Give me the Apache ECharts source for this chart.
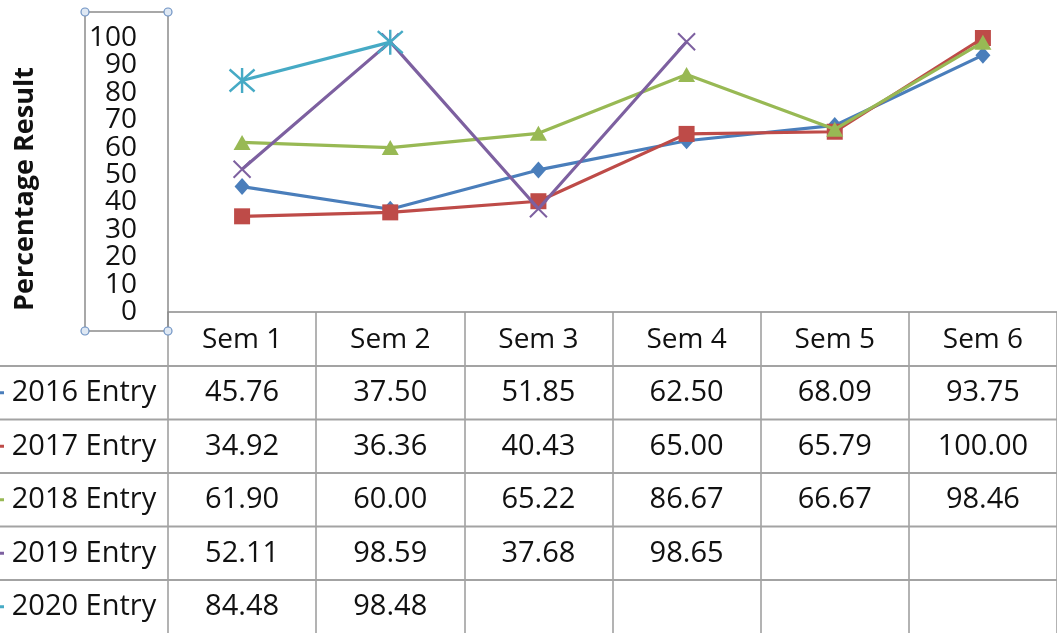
<!DOCTYPE html>
<html>
<head>
<meta charset="utf-8">
<script src="https://cdn.jsdelivr.net/npm/echarts@6/dist/echarts.min.js"></script>
<style>
  html, body { margin: 0; padding: 0; background: #fff; }
  #main { width: 1057px; height: 633px; }
</style>
</head>
<body>
<div id="main"></div>
<script>
const semesters = ['Sem 1', 'Sem 2', 'Sem 3', 'Sem 4', 'Sem 5', 'Sem 6'];
const entryNames = ['2016 Entry', '2017 Entry', '2018 Entry', '2019 Entry', '2020 Entry'];
const entry2016 = [45.76, 37.50, 51.85, 62.50, 68.09, 93.75];
const entry2017 = [34.92, 36.36, 40.43, 65.00, 65.79, 100.00];
const entry2018 = [61.90, 60.00, 65.22, 86.67, 66.67, 98.46];
const entry2019 = [52.11, 98.59, 37.68, 98.65, null, null];
const entry2020 = [84.48, 98.48, null, null, null, null];
const yTicks = [0, 10, 20, 30, 40, 50, 60, 70, 80, 90, 100];

const allEntries = [entry2016, entry2017, entry2018, entry2019, entry2020];
const colors = ['#4a7ebb', '#be4b48', '#98b954', '#7d60a0', '#46aac5'];

const FONT = 'Open Sans';
const xMark = 'path://M0,0L10,10M10,0L0,10';
const star = 'path://M5,0L5,10M0,0.6L10,9.4M0,9.4L10,0.6';
const symbols = ['diamond', 'rect', 'triangle', xMark, star];
const symbolSizes = [[15, 17], 16, [17, 15], 17, 25];

const chart = echarts.init(document.getElementById('main'));

const series = allEntries.map(function (vals, i) {
  const stroked = i >= 3;
  return {
    name: entryNames[i],
    type: 'line',
    data: vals,
    symbol: symbols[i],
    symbolSize: symbolSizes[i],
    showAllSymbol: true,
    connectNulls: false,
    lineStyle: { color: colors[i], width: 3.2 },
    itemStyle: stroked
      ? { color: colors[i], borderColor: colors[i], borderWidth: i === 4 ? 2.4 : 2 }
      : { color: colors[i], borderWidth: 0 },
    emphasis: { disabled: true },
    z: 3 + i
  };
});

chart.setOption({
  animation: false,
  grid: { left: 168, top: 38, width: 893, height: 274, containLabel: false },
  xAxis: {
    type: 'category',
    data: semesters,
    boundaryGap: true,
    axisLine: { lineStyle: { color: '#8a8a8a', width: 1.5 } },
    axisTick: { show: true, length: 322, lineStyle: { color: '#9a9a9a', width: 1.5 } },
    axisLabel: {
      margin: 28, verticalAlign: 'middle', fontFamily: FONT, fontSize: 28, color: '#111'
    },
    splitLine: { show: false }
  },
  yAxis: {
    type: 'value',
    min: yTicks[0],
    max: yTicks[yTicks.length - 1],
    interval: 10,
    name: 'Percentage Result',
    nameLocation: 'middle',
    nameGap: 129,
    nameTextStyle: {
      fontFamily: FONT, fontSize: 27, fontWeight: 'bold', color: '#111',
      padding: [0, 28, 0, 0]
    },
    axisLine: { show: false },
    axisTick: { show: false },
    splitLine: { show: false },
    // labels are packed tighter than echarts allows, drawn below
    axisLabel: { show: false }
  },
  series: series
});

// data table, columns aligned on the category axis
const rowTop = 366, rowH = 53.5;
const graphics = [];
const gridColor = '#a3a3a3';

// the selected axis-label box with its handles
graphics.push({
  type: 'rect', shape: { x: 85, y: 12, width: 83, height: 319 },
  style: { fill: 'none', stroke: '#8c8c8c', lineWidth: 1.5 }, z: 10
});
[[85, 12], [168, 12], [85, 331], [168, 331]].forEach(function (p) {
  graphics.push({
    type: 'circle', shape: { cx: p[0], cy: p[1], r: 4 },
    style: { fill: '#dfe8f3', stroke: '#6f93c4', lineWidth: 1.2 }, z: 11
  });
});

yTicks.forEach(function (t) {
  const y = chart.convertToPixel({ yAxisIndex: 0 }, t);
  graphics.push({
    type: 'text', x: 137, y: y,
    style: { text: String(t), fontFamily: FONT, fontSize: 28, fill: '#111', align: 'right', verticalAlign: 'middle' },
    z: 10
  });
});

for (let r = 0; r < entryNames.length; r++) {
  const y0 = rowTop + r * rowH;
  graphics.push({
    type: 'line', shape: { x1: 0, y1: y0, x2: 1057, y2: y0 },
    style: { stroke: gridColor, lineWidth: 2 }, z: 10
  });
  const cy = y0 + rowH / 2;
  // legend key, cut off at the left edge
  graphics.push({
    type: 'rect', shape: { x: 0, y: cy - 1.5, width: 4, height: 3 },
    style: { fill: colors[r] }, z: 10
  });
  graphics.push({
    type: 'text', x: 84, y: cy,
    style: { text: entryNames[r], fontFamily: FONT, fontSize: 29, fill: '#111', align: 'center', verticalAlign: 'middle' },
    z: 10
  });
  allEntries[r].forEach(function (v, c) {
    if (v === null) return;
    const cx = chart.convertToPixel({ xAxisIndex: 0 }, semesters[c]);
    graphics.push({
      type: 'text', x: cx, y: cy,
      style: { text: v.toFixed(2), fontFamily: FONT, fontSize: 29, fill: '#111', align: 'center', verticalAlign: 'middle' },
      z: 10
    });
  });
}

chart.setOption({ graphic: graphics });
</script>
</body>
</html>
